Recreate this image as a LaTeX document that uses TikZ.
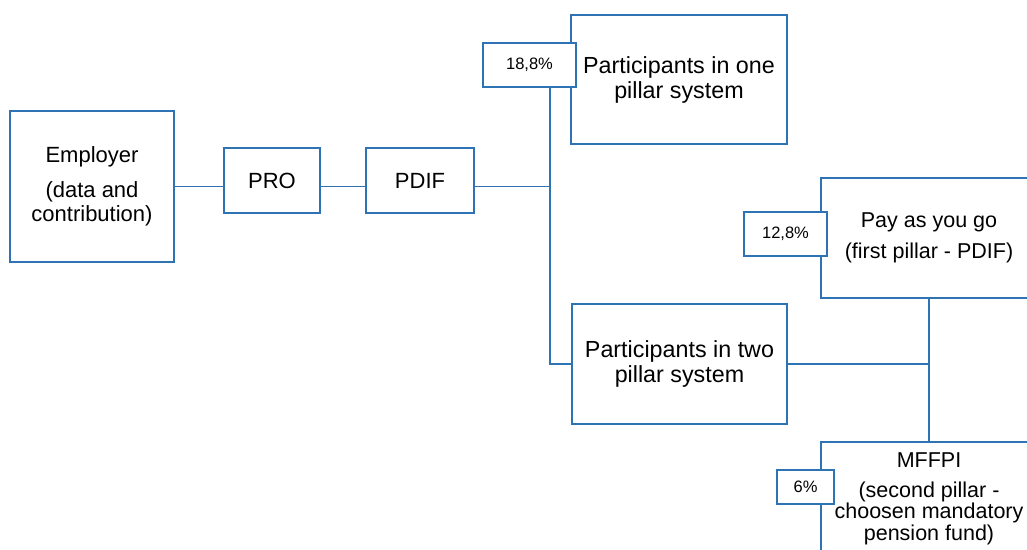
\documentclass[tikz,border=0pt]{standalone}
\usepackage{fontspec}
\setmainfont{Liberation Sans}
\definecolor{bl}{HTML}{2E74B5}
\begin{document}
\begin{tikzpicture}[x=1pt,y=-1pt,
 box/.style={draw=bl,line width=1.8pt,fill=white,inner sep=0pt,align=center,font=\fontsize{22}{24}\selectfont},
 pbox/.style={box,font=\fontsize{23.3}{25}\selectfont},
 rbox/.style={box,font=\fontsize{21.5}{21.5}\selectfont},
 pct/.style={draw=bl,line width=1.8pt,fill=white,inner sep=0pt,font=\fontsize{16.5}{18}\selectfont},
 conn/.style={draw=bl,line width=1.8pt}]
\useasboundingbox (0,0) rectangle (1027,549);
\clip (0,0) rectangle (1027,549);
\fill[white] (0,0) rectangle (1027,549);
% main boxes
\node[box,minimum width=164pt,minimum height=151pt] (emp) at (92,186.5) {Employer\\[11pt](data and\\contribution)};
\node[box,minimum width=96pt,minimum height=65pt] (pro) at (272,180.5) {PRO};
\node[box,minimum width=108pt,minimum height=65pt] (pdif) at (420,180.5) {PDIF};
\node[pbox,minimum width=216pt,minimum height=129pt] (one) at (679,79.5) {Participants in one\\pillar system};
\node[pbox,minimum width=215pt,minimum height=120pt] (two) at (679.5,364) {Participants in two\\pillar system};
\node[rbox,minimum width=216pt,minimum height=120pt] (pay) at (929,238) {Pay as you go\\[9.5pt](first pillar - PDIF)};
\node[rbox,minimum width=216pt,minimum height=113pt] (mffpi) at (929,498.5) {MFFPI\\[8.5pt](second pillar -\\choosen mandatory\\pension fund)};
% percentage boxes
\node[pct,minimum width=93pt,minimum height=44pt] (p188) at (529.5,65) {18,8\%};
\node[pct,minimum width=83pt,minimum height=44pt] (p128) at (785.5,234) {12,8\%};
\node[pct,minimum width=57pt,minimum height=34pt] (p6) at (805.5,487) {6\%};
% connectors
\coordinate (j) at (550,186.5);
\draw[conn] (emp.east) -- (emp.east -| pro.west);
\draw[conn] (pro.east |- emp.east) -- (pdif.west |- emp.east);
\draw[conn] (pdif.east |- emp.east) -- (j);
\draw[conn] (j |- p188.south) -- (j |- two.west) -- (two.west);
\draw[conn] (pay.south) -- (mffpi.north);
\draw[conn] (two.east) -- (two.east -| pay.south);
\end{tikzpicture}
\end{document}
